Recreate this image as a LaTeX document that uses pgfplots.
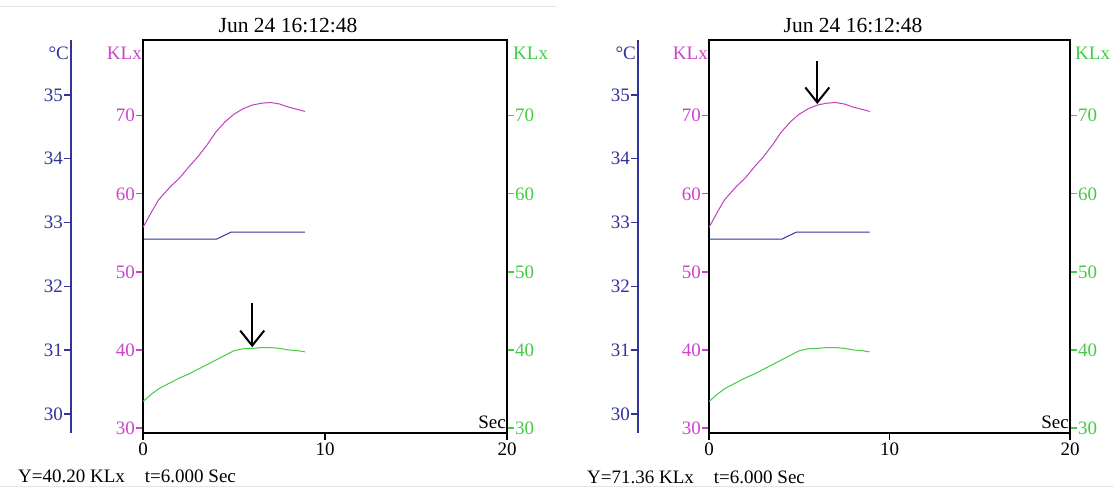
\documentclass[border=0pt]{standalone}
\usepackage{fontspec}
\setmainfont{Liberation Serif}
\usepackage{pgfplots}
\usepackage{pgfplotstable}
\pgfplotsset{compat=1.18}
\usetikzlibrary{arrows.meta}
\definecolor{mag}{HTML}{C040C0}
\definecolor{magtxt}{HTML}{CC44CC}
\definecolor{grn}{HTML}{44CC44}
\definecolor{blu}{HTML}{33339A}

\pgfplotstableread{
t lux1 lux2
0   55.7 33.4
0.5 57.8 34.4
0.85 59.2 35.0
1   59.6 35.2
1.5 60.9 35.8
2   62.0 36.4
2.5 63.4 36.9
3   64.7 37.5
3.5 66.2 38.1
4   67.9 38.7
4.5 69.2 39.3
5   70.2 39.9
5.5 70.9 40.15
6   71.36 40.2
6.5 71.6 40.3
7   71.7 40.3
7.5 71.5 40.2
8   71.1 40.0
8.5 70.8 39.9
8.9 70.55 39.75
}\luxdata
\pgfplotstableread{
t temp
0   32.74
4.05 32.74
4.85 32.85
8.9 32.85
}\tempdata

\pgfplotsset{
  panelbase/.style={scale only axis, height=393pt,
    /pgf/number format/assume math mode=true,
    tick label style={font=\fontsize{19}{22}\selectfont},
    yticklabel style={inner xsep=1pt},
    xticklabel style={inner ysep=3pt},
    major tick length=7pt, tick align=outside},
}

\newcommand{\panel}[7]{%
\begin{axis}[panelbase, width=#4, at={(#3,56pt)}, anchor=south west,
  xmin=#5, xmax=20, ymin=29.70, ymax=35.86,
  axis x line=none, axis y line*=left,
  y axis line style={blu, line width=1.6pt, -},
  ytick={30,31,32,33,34,35}, ytick pos=left,
  y tick style={blu, line width=1.3pt}, yticklabel style={blu}]
  \addplot[blu, line width=1pt] table[x=t,y=temp]{\tempdata};
\end{axis}
\begin{axis}[panelbase, width=#2, at={(#1,56pt)}, anchor=south west,
  xmin=0, xmax=20, ymin=29.36, ymax=79.7,
  xtick={0,10,20}, ytick={30,40,50,60,70},
  xtick pos=left, ytick pos=left,
  axis line style={black, line width=1.2pt},
  x tick style={black, line width=1.3pt}, y tick style={magtxt, line width=1.3pt},
  yticklabel style={magtxt}, xticklabel style={black}]
  \addplot[mag, line width=1pt] table[x=t,y=lux1]{\luxdata};
  \addplot[grn, line width=1pt] table[x=t,y=lux2]{\luxdata};
  \draw[-{Straight Barb[length=15pt,width=24pt]}, line width=2pt] (axis cs:6,#7) -- (axis cs:6,#6);
\end{axis}
\begin{axis}[panelbase, width=#2, at={(#1,56pt)}, anchor=south west,
  xmin=0, xmax=20, ymin=29.36, ymax=79.7,
  axis x line=none, axis y line*=right,
  y axis line style={black, line width=1.2pt, -},
  ytick={30,40,50,60,70}, ytick pos=right,
  y tick style={grn, line width=1.3pt}, yticklabel style={grn}]
\end{axis}
}

\begin{document}
\begin{tikzpicture}[font=\fontsize{19}{22}\selectfont]
\path[use as bounding box, fill=white] (0,0) rectangle (1114pt,489pt);
\draw[gray!20, line width=1pt] (0,482pt) -- (556pt,482pt);
\draw[gray!20, line width=1pt] (0,2pt) -- (1114pt,2pt);

\panel{143pt}{364pt}{71pt}{436pt}{-3.956}{40.35}{46.0}
\panel{709pt}{361pt}{638pt}{432pt}{-3.93}{71.5}{77.0}

% left panel texts
\node[font=\fontsize{21.5}{24}\selectfont] at (288pt,463pt) {Jun 24 16:12:48};
\node[anchor=east, text=blu, inner sep=0pt] at (69pt,436pt) {°C};
\node[anchor=east, text=magtxt, inner sep=0pt] at (142pt,436pt) {KLx};
\node[anchor=west, text=grn, inner sep=0pt] at (513pt,436pt) {KLx};
\node[anchor=east, inner sep=0pt] at (506pt,67pt) {Sec};
\node[anchor=west, inner sep=0pt] at (18pt,13pt) {Y=40.20 KLx\hspace{20pt}t=6.000 Sec};

% right panel texts
\node[font=\fontsize{21.5}{24}\selectfont] at (853pt,463pt) {Jun 24 16:12:48};
\node[anchor=east, text=blu, inner sep=0pt] at (636pt,436pt) {°C};
\node[anchor=east, text=magtxt, inner sep=0pt] at (708pt,436pt) {KLx};
\node[anchor=west, text=grn, inner sep=0pt] at (1075pt,436pt) {KLx};
\node[anchor=east, inner sep=0pt] at (1069pt,67pt) {Sec};
\node[anchor=west, inner sep=0pt] at (587pt,12pt) {Y=71.36 KLx\hspace{20pt}t=6.000 Sec};
\end{tikzpicture}
\end{document}
